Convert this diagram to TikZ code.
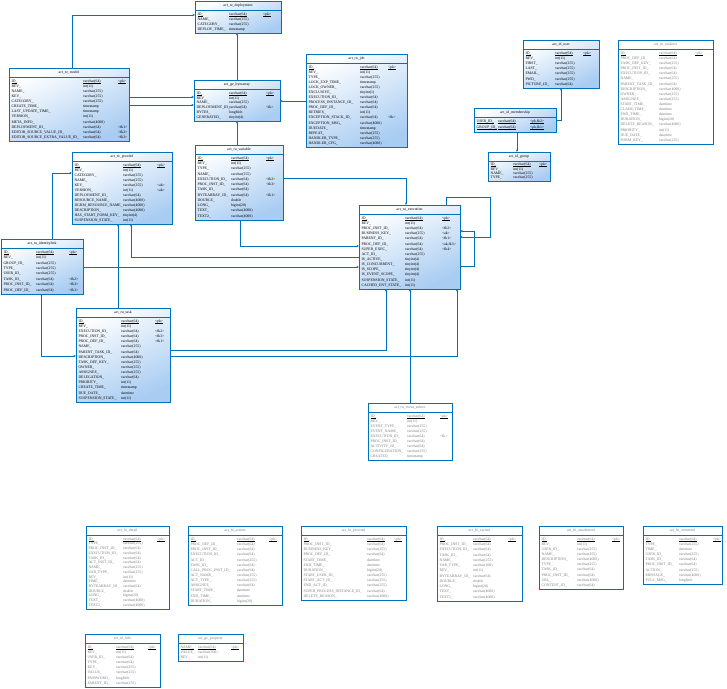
\documentclass[tikz,border=0pt]{standalone}
\usepackage{fontspec}
\setmainfont{Liberation Serif}
\usetikzlibrary{arrows.meta}
\definecolor{tblue}{RGB}{0,114,188}
\definecolor{tlight}{RGB}{168,204,242}
\definecolor{tgray}{RGB}{125,125,125}
\newcount\rowcnt
\newif\ifbluetbl
\newif\ifallpk
\newcommand\tblfont{\fontsize{3.8}{4.4}\selectfont}
\newcommand\ulrow[2]{%
  \foreach \c in {n,y,k}{\draw[line width=0.45pt, black] ([yshift=-0.7pt]#1-\c#2.base west) -- ([yshift=-0.7pt]#1-\c#2.base east);}}
\newcommand\tbl[9]{%
  \ifbluetbl
    \node[tbox, bluefill, minimum width={(#5-#3)*1pt}, minimum height={(#6-#4)*1pt}] (#1) at (#3,#4) {};
    \def\tcol{black}%
  \else
    \node[tbox, fill=white, minimum width={(#5-#3)*1pt}, minimum height={(#6-#4)*1pt}] (#1) at (#3,#4) {};
    \def\tcol{tgray}%
  \fi
  \node[ttitle, text=\tcol] (#1-t) at ({(#3+#5)/2},{#4+4.6}) {#2};
  \draw[tblue, line width=0.5pt] ({#3},{#4+9.2}) -- ({#5},{#4+9.2});
  \global\rowcnt=0
  \foreach \x in {#9}{\global\advance\rowcnt by 1}%
  \pgfmathsetmacro\pitch{(#6-#4-12)/\the\rowcnt}%
  \foreach \n/\t/\k [count=\i] in {#9}{%
    \pgfmathsetmacro\yy{#4+10.5+(\i-0.5)*\pitch+1.3}%
    \node[tcell, text=\tcol] (#1-n\i) at ({#3+2.5},\yy) {\n};
    \node[tcell, text=\tcol] (#1-y\i) at ({#3+#7},\yy) {\t};
    \node[tcell, text=\tcol] (#1-k\i) at ({#3+#8},\yy) {\k};
    \ifnum\i=1\relax \ulrow{#1}{\i}\else\ifallpk\ulrow{#1}{\i}\fi\fi
  }%
}
\tikzset{
  tbox/.style={draw=tblue, line width=0.7pt, anchor=north west, inner sep=0pt, outer sep=0pt, rectangle},
  bluefill/.style={top color=white, bottom color=tlight, shading angle=25},
  tcell/.style={anchor=base west, inner sep=0pt, outer sep=0pt, font=\tblfont},
  ttitle/.style={inner sep=0pt, font=\tblfont},
  conn/.style={draw=tblue, line width=0.6pt, -{Stealth[length=2.6pt,width=2.2pt]}}
}
\begin{document}
\begin{tikzpicture}[x=1pt,y=-1pt]
\useasboundingbox (0,0) rectangle (727,688);
\fill[white] (0,0) rectangle (727,688);
\bluetbltrue
\tbl{deploy}{act\_re\_deployment}{195}{1}{281}{33}{34}{68}{ID\_/varchar(64)/{<pk>}, NAME\_/varchar(255)/{}, CATEGORY\_/varchar(255)/{}, DEPLOY\_TIME\_/timestamp/{}}
\tbl{bytea}{act\_ge\_bytearray}{194}{80}{280}{121}{35}{72}{ID\_/varchar(64)/{<pk>}, REV\_/int(11)/{}, NAME\_/varchar(255)/{}, DEPLOYMENT\_ID\_/varchar(64)/{<fk>}, BYTES\_/longblob/{}, GENERATED\_/tinyint(4)/{}}
\tbl{model}{act\_re\_model}{9}{68}{129}{141}{74}{109}{ID\_/varchar(64)/{<pk>}, REV\_/int(11)/{}, NAME\_/varchar(255)/{}, KEY\_/varchar(255)/{}, CATEGORY\_/varchar(255)/{}, CREATE\_TIME\_/timestamp/{}, LAST\_UPDATE\_TIME\_/timestamp/{}, VERSION\_/int(11)/{}, META\_INFO\_/varchar(4000)/{}, DEPLOYMENT\_ID\_/varchar(64)/{<fk1>}, EDITOR\_SOURCE\_VALUE\_ID\_/varchar(64)/{<fk2>}, EDITOR\_SOURCE\_EXTRA\_VALUE\_ID\_/varchar(64)/{<fk3>}}
\tbl{job}{act\_ru\_job}{306}{54}{407}{147}{54}{82}{ID\_/varchar(64)/{<pk>}, REV\_/int(11)/{}, TYPE\_/varchar(255)/{}, LOCK\_EXP\_TIME\_/timestamp/{}, LOCK\_OWNER\_/varchar(255)/{}, EXCLUSIVE\_/tinyint(1)/{}, EXECUTION\_ID\_/varchar(64)/{}, PROCESS\_INSTANCE\_ID\_/varchar(64)/{}, PROC\_DEF\_ID\_/varchar(64)/{}, RETRIES\_/int(11)/{}, EXCEPTION\_STACK\_ID\_/varchar(64)/{<fk>}, EXCEPTION\_MSG\_/varchar(4000)/{}, DUEDATE\_/timestamp/{}, REPEAT\_/varchar(255)/{}, HANDLER\_TYPE\_/varchar(255)/{}, HANDLER\_CFG\_/varchar(4000)/{}}
\tbl{user}{act\_id\_user}{523}{40}{599}{88}{32}{60}{ID\_/varchar(64)/{<pk>}, REV\_/int(11)/{}, FIRST\_/varchar(255)/{}, LAST\_/varchar(255)/{}, EMAIL\_/varchar(255)/{}, PWD\_/varchar(255)/{}, PICTURE\_ID\_/varchar(64)/{}}
\allpktrue
\tbl{memb}{act\_id\_membership}{474}{108}{556}{132}{24}{56}{USER\_ID\_/varchar(64)/{<pk,fk2>}, GROUP\_ID\_/varchar(64)/{<pk,fk1>}}
\allpkfalse
\tbl{group}{act\_id\_group}{488}{152}{550}{181}{25}{51}{ID\_/varchar(64)/{<pk>}, REV\_/int(11)/{}, NAME\_/varchar(255)/{}, TYPE\_/varchar(255)/{}}
\tbl{procdef}{act\_re\_procdef}{72}{152}{172}{224}{51}{85}{ID\_/varchar(64)/{<pk>}, REV\_/int(11)/{}, CATEGORY\_/varchar(255)/{}, NAME\_/varchar(255)/{}, KEY\_/varchar(255)/{<ak>}, VERSION\_/int(11)/{<ak>}, DEPLOYMENT\_ID\_/varchar(64)/{}, RESOURCE\_NAME\_/varchar(4000)/{}, DGRM\_RESOURCE\_NAME\_/varchar(4000)/{}, DESCRIPTION\_/varchar(4000)/{}, HAS\_START\_FORM\_KEY\_/tinyint(4)/{}, SUSPENSION\_STATE\_/int(11)/{}}
\tbl{var}{act\_ru\_variable}{195}{145}{283}{220}{36}{71}{ID\_/varchar(64)/{<pk>}, REV\_/int(11)/{}, TYPE\_/varchar(255)/{}, NAME\_/varchar(255)/{}, EXECUTION\_ID\_/varchar(64)/{<fk2>}, PROC\_INST\_ID\_/varchar(64)/{<fk3>}, TASK\_ID\_/varchar(64)/{}, BYTEARRAY\_ID\_/varchar(64)/{<fk1>}, DOUBLE\_/double/{}, LONG\_/bigint(20)/{}, TEXT\_/varchar(4000)/{}, TEXT2\_/varchar(4000)/{}}
\tbl{exec}{act\_ru\_execution}{359}{205}{460}{289}{46}{83}{ID\_/varchar(64)/{<pk>}, REV\_/int(11)/{}, PROC\_INST\_ID\_/varchar(64)/{<fk2>}, BUSINESS\_KEY\_/varchar(255)/{<ak>}, PARENT\_ID\_/varchar(64)/{<fk1>}, PROC\_DEF\_ID\_/varchar(64)/{<ak,fk3>}, SUPER\_EXEC\_/varchar(64)/{<fk4>}, ACT\_ID\_/varchar(255)/{}, IS\_ACTIVE\_/tinyint(4)/{}, IS\_CONCURRENT\_/tinyint(4)/{}, IS\_SCOPE\_/tinyint(4)/{}, IS\_EVENT\_SCOPE\_/tinyint(4)/{}, SUSPENSION\_STATE\_/int(11)/{}, CACHED\_ENT\_STATE\_/int(11)/{}}
\tbl{idlink}{act\_ru\_identitylink}{1}{239}{83}{294}{35}{68}{ID\_/varchar(64)/{<pk>}, REV\_/int(11)/{}, GROUP\_ID\_/varchar(255)/{}, TYPE\_/varchar(255)/{}, USER\_ID\_/varchar(255)/{}, TASK\_ID\_/varchar(64)/{<fk2>}, PROC\_INST\_ID\_/varchar(64)/{<fk3>}, PROC\_DEF\_ID\_/varchar(64)/{<fk1>}}
\tbl{task}{act\_ru\_task}{76}{308}{170}{402}{45}{79}{ID\_/varchar(64)/{<pk>}, REV\_/int(11)/{}, EXECUTION\_ID\_/varchar(64)/{<fk2>}, PROC\_INST\_ID\_/varchar(64)/{<fk3>}, PROC\_DEF\_ID\_/varchar(64)/{<fk1>}, NAME\_/varchar(255)/{}, PARENT\_TASK\_ID\_/varchar(64)/{}, DESCRIPTION\_/varchar(4000)/{}, TASK\_DEF\_KEY\_/varchar(255)/{}, OWNER\_/varchar(255)/{}, ASSIGNEE\_/varchar(255)/{}, DELEGATION\_/varchar(64)/{}, PRIORITY\_/int(11)/{}, CREATE\_TIME\_/timestamp/{}, DUE\_DATE\_/datetime/{}, SUSPENSION\_STATE\_/int(11)/{}}
\bluetblfalse
\tbl{taskinst}{act\_hi\_taskinst}{618}{40}{713}{144}{41}{77}{ID\_/varchar(64)/{<pk>}, PROC\_DEF\_ID\_/varchar(64)/{}, TASK\_DEF\_KEY\_/varchar(255)/{}, PROC\_INST\_ID\_/varchar(64)/{}, EXECUTION\_ID\_/varchar(64)/{}, NAME\_/varchar(255)/{}, PARENT\_TASK\_ID\_/varchar(64)/{}, DESCRIPTION\_/varchar(4000)/{}, OWNER\_/varchar(255)/{}, ASSIGNEE\_/varchar(255)/{}, START\_TIME\_/datetime/{}, CLAIM\_TIME\_/datetime/{}, END\_TIME\_/datetime/{}, DURATION\_/bigint(20)/{}, DELETE\_REASON\_/varchar(4000)/{}, PRIORITY\_/int(11)/{}, DUE\_DATE\_/datetime/{}, FORM\_KEY\_/varchar(255)/{}}
\tbl{evt}{act\_ru\_event\_subscr}{368}{403}{452}{460}{39}{72}{ID\_/varchar(64)/{<pk>}, REV\_/int(11)/{}, EVENT\_TYPE\_/varchar(255)/{}, EVENT\_NAME\_/varchar(255)/{}, EXECUTION\_ID\_/varchar(64)/{<fk>}, PROC\_INST\_ID\_/varchar(64)/{}, ACTIVITY\_ID\_/varchar(64)/{}, CONFIGURATION\_/varchar(255)/{}, CREATED\_/timestamp/{}}
\tbl{detail}{act\_hi\_detail}{86}{526}{169}{609}{37}{71}{ID\_/varchar(64)/{<pk>}, TYPE\_/varchar(255)/{}, PROC\_INST\_ID\_/varchar(64)/{}, EXECUTION\_ID\_/varchar(64)/{}, TASK\_ID\_/varchar(64)/{}, ACT\_INST\_ID\_/varchar(64)/{}, NAME\_/varchar(255)/{}, VAR\_TYPE\_/varchar(255)/{}, REV\_/int(11)/{}, TIME\_/datetime/{}, BYTEARRAY\_ID\_/varchar(64)/{}, DOUBLE\_/double/{}, LONG\_/bigint(20)/{}, TEXT\_/varchar(4000)/{}, TEXT2\_/varchar(4000)/{}}
\tbl{actinst}{act\_hi\_actinst}{188}{526}{282}{605}{49}{81}{ID\_/varchar(64)/{<pk>}, PROC\_DEF\_ID\_/varchar(64)/{}, PROC\_INST\_ID\_/varchar(64)/{}, EXECUTION\_ID\_/varchar(64)/{}, ACT\_ID\_/varchar(255)/{}, TASK\_ID\_/varchar(64)/{}, CALL\_PROC\_INST\_ID\_/varchar(64)/{}, ACT\_NAME\_/varchar(255)/{}, ACT\_TYPE\_/varchar(255)/{}, ASSIGNEE\_/varchar(64)/{}, START\_TIME\_/datetime/{}, END\_TIME\_/datetime/{}, DURATION\_/bigint(20)/{}}
\tbl{procinst}{act\_hi\_procinst}{301}{526}{406}{600}{66}{93}{ID\_/varchar(64)/{<pk>}, PROC\_INST\_ID\_/varchar(64)/{}, BUSINESS\_KEY\_/varchar(255)/{}, PROC\_DEF\_ID\_/varchar(64)/{}, START\_TIME\_/datetime/{}, END\_TIME\_/datetime/{}, DURATION\_/bigint(20)/{}, START\_USER\_ID\_/varchar(255)/{}, START\_ACT\_ID\_/varchar(255)/{}, END\_ACT\_ID\_/varchar(255)/{}, SUPER\_PROCESS\_INSTANCE\_ID\_/varchar(64)/{}, DELETE\_REASON\_/varchar(4000)/{}}
\tbl{varinst}{act\_hi\_varinst}{437}{526}{522}{601}{36}{71}{ID\_/varchar(64)/{<pk>}, PROC\_INST\_ID\_/varchar(64)/{}, EXECUTION\_ID\_/varchar(64)/{}, TASK\_ID\_/varchar(64)/{}, NAME\_/varchar(255)/{}, VAR\_TYPE\_/varchar(100)/{}, REV\_/int(11)/{}, BYTEARRAY\_ID\_/varchar(64)/{}, DOUBLE\_/double/{}, LONG\_/bigint(20)/{}, TEXT\_/varchar(4000)/{}, TEXT2\_/varchar(4000)/{}}
\tbl{attach}{act\_hi\_attachment}{539}{526}{623}{589}{38}{73}{ID\_/varchar(64)/{<pk>}, REV\_/int(11)/{}, USER\_ID\_/varchar(255)/{}, NAME\_/varchar(255)/{}, DESCRIPTION\_/varchar(4000)/{}, TYPE\_/varchar(255)/{}, TASK\_ID\_/varchar(64)/{}, PROC\_INST\_ID\_/varchar(64)/{}, URL\_/varchar(4000)/{}, CONTENT\_ID\_/varchar(64)/{}}
\tbl{comment}{act\_hi\_comment}{643}{526}{722}{584}{36}{70}{ID\_/varchar(64)/{<pk>}, TYPE\_/varchar(255)/{}, TIME\_/datetime/{}, USER\_ID\_/varchar(255)/{}, TASK\_ID\_/varchar(64)/{}, PROC\_INST\_ID\_/varchar(64)/{}, ACTION\_/varchar(255)/{}, MESSAGE\_/varchar(4000)/{}, FULL\_MSG\_/longblob/{}}
\tbl{info}{act\_id\_info}{85}{634}{160}{687}{31}{63}{ID\_/varchar(64)/{<pk>}, REV\_/int(11)/{}, USER\_ID\_/varchar(64)/{}, TYPE\_/varchar(64)/{}, KEY\_/varchar(255)/{}, VALUE\_/varchar(255)/{}, PASSWORD\_/longblob/{}, PARENT\_ID\_/varchar(255)/{}}
\tbl{prop}{act\_ge\_property}{178}{634}{243}{661}{20}{53}{NAME\_/varchar(64)/{<pk>}, VALUE\_/varchar(300)/{}, REV\_/int(11)/{}}
% connectors
\draw[conn] (model.north -| 72,0) |- (deploy.west |- 0,15);
\draw[conn] (model.east |- 0,97) -- (bytea.west |- 0,97);
\draw[conn] (model.east |- 0,105) -- (bytea.west |- 0,105);
\draw[conn] (bytea.north -| 237,0) -- (deploy.south -| 237,0);
\draw[conn] (job.west |- 0,101) -- (bytea.east |- 0,101);
\draw[conn] (var.north -| 237,0) -- (bytea.south -| 237,0);
\draw[conn] (var.east |- 0,178) -| (exec.north -| 406,0);
\draw[conn] (var.south -| 240,0) |- (exec.west |- 0,246);
\draw[conn] (exec.west |- 0,257) -| (procdef.south -| 131,0);
\draw[conn] (idlink.east |- 0,267) -- (exec.west |- 0,267);
\draw[conn] (idlink.north -| 52,0) |- (procdef.west |- 0,173);
\draw[conn] (idlink.south -| 41,0) |- (task.west |- 0,356);
\draw[conn] (task.north -| 118,0) -- (procdef.south -| 118,0);
\draw[conn] (task.east |- 0,350) -| (exec.south -| 386,0);
\draw[conn] (task.east |- 0,356) -| (exec.south -| 457,0);
\draw[conn] (evt.north -| 410,0) -- (exec.south -| 410,0);
\draw[conn] (exec.north -| 446,0) |- (490,197) |- (exec.east |- 0,237);
\draw[conn] (exec.east |- 0,266) -- (474,266) -- (474,231) -- (exec.east |- 0,231);
\draw[conn] (memb.east |- 0,120) -| (user.south -| 561,0);
\draw[conn] (memb.south -| 517,0) -- (group.north -| 517,0);
\end{tikzpicture}
\end{document}
